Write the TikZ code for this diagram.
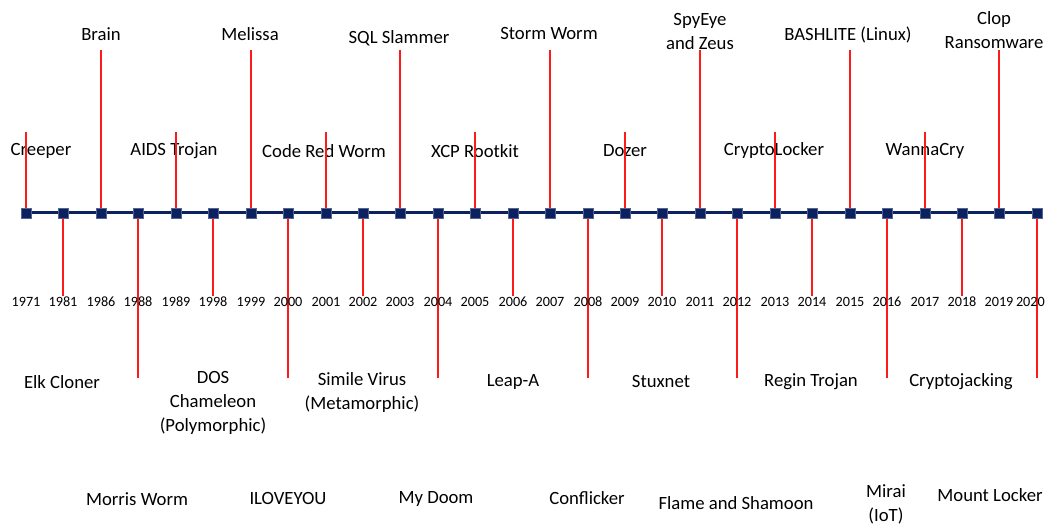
\documentclass[tikz,border=0pt]{standalone}
\usepackage{fontspec}
\setmainfont{Carlito}
\definecolor{navy}{HTML}{0B2160}
\definecolor{stemred}{HTML}{FF1A1A}
\pgfdeclarelayer{bg}
\pgfsetlayers{bg,main}
\begin{document}
\begin{tikzpicture}[x=1pt,y=-1pt,
  marker/.style={rectangle,fill=navy,draw=navy!70,line width=0.4pt,minimum size=10pt,inner sep=0pt},
  stem/.style={draw=stemred,line width=2pt},
  axis/.style={draw=navy,line width=3pt},
  lbl/.style={font=\fontsize{18.7}{24}\selectfont,align=center,inner sep=0pt,text=black},
  yr/.style={font=\fontsize{14.2}{16}\selectfont,inner sep=0pt,text=black}]
\useasboundingbox (0,0) rectangle (1045,529);
% axis positions
\foreach \y [count=\i from 0] in {1971,1981,1986,1988,1989,1998,1999,2000,2001,2002,2003,2004,2005,2006,2007,2008,2009,2010,2011,2012,2013,2014,2015,2016,2017,2018,2019,2020}{
  \pgfmathsetmacro{\xx}{round(26+\i*37.44)}
  \coordinate (c\y) at (\xx,213);
}
\foreach \y in {1971,1981,1986,1988,1989,1998,1999,2000,2001,2002,2003,2004,2005,2006,2007,2008,2009,2010,2011,2012,2013,2014,2015,2016,2017,2018,2019}{
  \node[yr] (y\y) at (c\y |- 0,302) {\y};
}
\node[yr,anchor=east] (y2020) at (1045,302) {2020};
\begin{pgfonlayer}{bg}
\draw[axis] (c1971) -- (c2020);
\end{pgfonlayer}
\foreach \y in {1971,1981,1986,1988,1989,1998,1999,2000,2001,2002,2003,2004,2005,2006,2007,2008,2009,2010,2011,2012,2013,2014,2015,2016,2017,2018,2019,2020}{
  \node[marker] (m\y) at (c\y) {};
}
% stem end coordinates and stems
\begin{pgfonlayer}{bg}
\foreach \y in {1986,1999,2003,2007,2011,2015,2019}{
  \coordinate (e\y) at (c\y |- 0,50);
  \draw[stem] (m\y.center) -- (e\y);
}
\foreach \y in {1971,1989,2001,2005,2009,2013,2017}{
  \coordinate (e\y) at (c\y |- 0,132);
}
\foreach \y in {1981,1998,2002,2006,2010,2014,2018}{
  \coordinate (e\y) at (c\y |- 0,296);
  \draw[stem] (m\y.center) -- (e\y);
}
\foreach \y in {1988,2000,2004,2008,2012,2016,2020}{
  \coordinate (e\y) at (c\y |- 0,378);
  \draw[stem] (m\y.center) -- (e\y);
}
\end{pgfonlayer}
% top long labels
\node[lbl] (lBrain) at (101,34) {Brain};
\node[lbl] (lMelissa) at (250,34) {Melissa};
\node[lbl] (lSQL) at (399,38) {SQL Slammer};
\node[lbl] (lStorm) at (549,34) {Storm Worm};
\node[lbl] (lSpy) at (700,32) {SpyEye\\and Zeus};
\node[lbl] (lBash) at (848,35) {BASHLITE (Linux)};
\node[lbl] (lClop) at (994,30) {Clop\\Ransomware};
% top short labels
\node[lbl] (lCreeper) at (41,151) {Creeper};
\node[lbl] (lAIDS) at (174,151) {AIDS Trojan};
\node[lbl] (lCodeRed) at (324,151) {Code Red Worm};
\node[lbl] (lXCP) at (475,151) {XCP Rootkit};
\node[lbl] (lDozer) at (625,151) {Dozer};
\node[lbl] (lCrypto) at (774,151) {CryptoLocker};
\node[lbl] (lWanna) at (925,151) {WannaCry};
% top short stems drawn over labels
\foreach \y in {1971,1989,2001,2005,2009,2013,2017}{
  \draw[stem] (m\y.north) -- (e\y);
}
% bottom short labels
\node[lbl] (lElk) at (62,382) {Elk Cloner};
\node[lbl] (lDOS) at (213,403) {DOS\\Chameleon\\(Polymorphic)};
\node[lbl] (lSimile) at (362,393) {Simile Virus\\(Metamorphic)};
\node[lbl] (lLeap) at (513,382) {Leap-A};
\node[lbl] (lStux) at (661,382) {Stuxnet};
\node[lbl] (lRegin) at (811,382) {Regin Trojan};
\node[lbl] (lCJ) at (961,382) {Cryptojacking};
% bottom long labels
\node[lbl] (lMorris) at (137,499) {Morris Worm};
\node[lbl] (lILY) at (288,499) {ILOVEYOU};
\node[lbl] (lDoom) at (436,499) {My Doom};
\node[lbl] (lConf) at (587,498) {Conflicker};
\node[lbl] (lFlame) at (736,503) {Flame and Shamoon};
\node[lbl] (lMirai) at (886,504) {Mirai\\(IoT)};
\node[lbl] (lMount) at (990,495) {Mount Locker};
\end{tikzpicture}
\end{document}
